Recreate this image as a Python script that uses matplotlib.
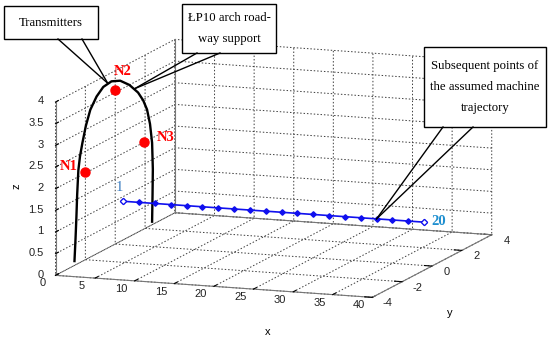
import matplotlib
matplotlib.use("Agg")
import matplotlib.pyplot as plt
from matplotlib.lines import Line2D
from matplotlib.ticker import NullFormatter
from mpl_toolkits.mplot3d import proj3d

plt.rcParams["axes.unicode_minus"] = False
plt.rcParams["font.family"] = ["Liberation Sans", "DejaVu Sans"]

# arch support (plane x = 0)
arch_y = [-2.73, -2.66, -2.60, -2.55, -2.47, -2.36, -2.20, -1.97, -1.67, -1.25,
          -0.80, -0.25, 0.33, 0.95, 1.53, 1.87, 2.13, 2.33, 2.47, 2.52, 2.50, 2.47]
arch_z = [0.10, 0.60, 1.10, 1.60, 2.15, 2.45, 2.73, 3.08, 3.40, 3.63,
          3.77, 3.80, 3.71, 3.50, 3.22, 2.98, 2.72, 2.35, 1.89, 1.27, 0.70, 0.07]
arch_x = [0.0] * len(arch_y)

# transmitters
tx_names = ["N1", "N2", "N3"]
tx_x = [0.0, 0.0, 0.0]
tx_y = [-2.0, 0.0, 1.9]
tx_z = [2.02, 3.55, 2.02]

# machine trajectory points 1..20
traj_x = [1, 3, 5, 7, 9, 11, 13, 15, 17, 19, 21, 23, 25, 27, 29, 31, 33, 35, 37, 39]
traj_y = [0] * 20
traj_z = [1.0] * 20

xticks = [0, 5, 10, 15, 20, 25, 30, 35, 40]
yticks = [-4, -2, 0, 2, 4]
zticks = [0, 0.5, 1, 1.5, 2, 2.5, 3, 3.5, 4]
xlim, ylim, zlim = (0, 40), (-4, 4), (0, 4)

fig = plt.figure(figsize=(5.5, 3.42), dpi=100)
ax = fig.add_axes([-6 / 550, -2 / 342, 1, 1], projection="3d", proj_type="ortho")
ax.view_init(elev=11, azim=-70)
ax.set_box_aspect((336, 348, 176), zoom=1.466)

ax.set_xlim(*xlim)
ax.set_ylim(*ylim)
ax.set_zlim(*zlim)
ax.set_xticks(xticks)
ax.set_yticks(yticks)
ax.set_zticks(zticks)
ax.zaxis.set_ticks_position("lower")

for axis in (ax.xaxis, ax.yaxis, ax.zaxis):
    axis.set_major_formatter(NullFormatter())
    axis.set_pane_color((1, 1, 1, 0))
    axis.pane.set_edgecolor("none")
    axis.line.set_color("#777777")
    axis.line.set_linewidth(0.8)
    axis.label.set_visible(False)
    axis.offsetText.set_visible(False)
    axis._axinfo["grid"].update(color="#3c3c3c", linewidth=0.7, linestyle=(0, (1.5, 2)))
    axis._axinfo["tick"].update(inward_factor=0.0, outward_factor=0.3, color="#777777")

lines = []
# solid back edges of the box
lines += ax.plot([xlim[0], xlim[0]], [ylim[1], ylim[1]], list(zlim), color="#777777", lw=0.8)
lines += ax.plot(list(xlim), [ylim[1], ylim[1]], [zlim[0], zlim[0]], color="#777777", lw=0.8)
lines += ax.plot(arch_x, arch_y, arch_z, color="black", lw=1.7)
lines += ax.plot(tx_x, tx_y, tx_z, "o", color="red", ms=6.5, mec="red")
lines += ax.plot(traj_x, traj_y, traj_z, color="#1010ee", lw=1.2, marker="D", ms=2.8)
lines += ax.plot([traj_x[0], traj_x[-1]], [traj_y[0], traj_y[-1]], [traj_z[0], traj_z[-1]],
                 ls="none", marker="D", ms=3.2, mfc="white", mec="#1010ee", mew=0.9)
for ln in lines:
    ln.set_clip_on(False)

fig.canvas.draw()


def proj2d(x, y, z):
    x2, y2, _ = proj3d.proj_transform(x, y, z, ax.get_proj())
    return x2, y2


def text3(x, y, z, s, **kw):
    x2, y2 = proj2d(x, y, z)
    return ax.text2D(x2, y2, s, transform=ax.transData, clip_on=False, **kw)


# tick labels, MATLAB style placement
tk = dict(fontsize=8, color="#222222")
for t in xticks:
    text3(t, ylim[0] - 0.87, zlim[0] - 0.03, f"{t:g}", ha="center", va="center", **tk)
for t in yticks:
    text3(xlim[1] + 1.9, t, zlim[0] - 0.115, f"{t:g}", ha="center", va="center", **tk)
for t in zticks:
    text3(xlim[0] - 1.5, ylim[0], t, f"{t:g}", ha="right", va="center", **tk)

serif = ["Liberation Serif", "DejaVu Serif"]
lab = dict(fontsize=10.5, family=serif, ha="center", va="center")
text3(0, -3.13, 2.36, "N1", color="red", weight="bold", **lab)
text3(0, 0.47, 3.89, "N2", color="red", weight="bold", **lab)
text3(0, 3.4, 1.84, "N3", color="red", weight="bold", **lab)
text3(0.5, 0, 1.30, "1", color="#3a7cc0", **lab)
text3(40.9, 0, 1.03, "20", color="#1e8fd0", weight="bold", **lab)

fig.text(268 / 550, 1 - 332 / 342, "x", fontsize=8, ha="center", va="center")
fig.text(450 / 550, 1 - 313 / 342, "y", fontsize=8, ha="center", va="center")
fig.text(17 / 550, 1 - 186 / 342, "z", fontsize=8, ha="center", va="center", rotation=90)


def callout(box, text, base, tip3d, linespacing):
    # box = (left, top, right, bottom) in pixels from top-left
    l, t, r, b = box
    H = 342
    fig.add_artist(plt.Rectangle((l / 550, 1 - b / H), (r - l) / 550, (b - t) / H,
                                 transform=fig.transFigure, fill=True, fc="white",
                                 ec="black", lw=1.0, zorder=5))
    fig.text((l + r) / 2 / 550, 1 - (t + b) / 2 / H, text, ha="center", va="center",
             fontsize=9.2, family=serif, linespacing=linespacing, zorder=6)
    tx, ty = ax.transData.transform(proj2d(*tip3d))
    for bx in base:
        fig.add_artist(Line2D([bx, tx], [H - b, ty], transform=None,
                              color="black", lw=1.0, zorder=6))


callout((4, 6, 98, 39), "Transmitters", (58, 82), (0, -0.5, 3.8), 1.2)
callout((182, 4, 276, 53), "ŁP10 arch road-\nway support", (197, 220), (0, 1.3, 3.35), 2.1)
callout((424, 47, 546, 127), "Subsequent points of\nthe assumed machine\ntrajectory", (443, 473),
        (traj_x[16], traj_y[16], traj_z[16]), 2.0)

fig.savefig("out.png", dpi=100)
